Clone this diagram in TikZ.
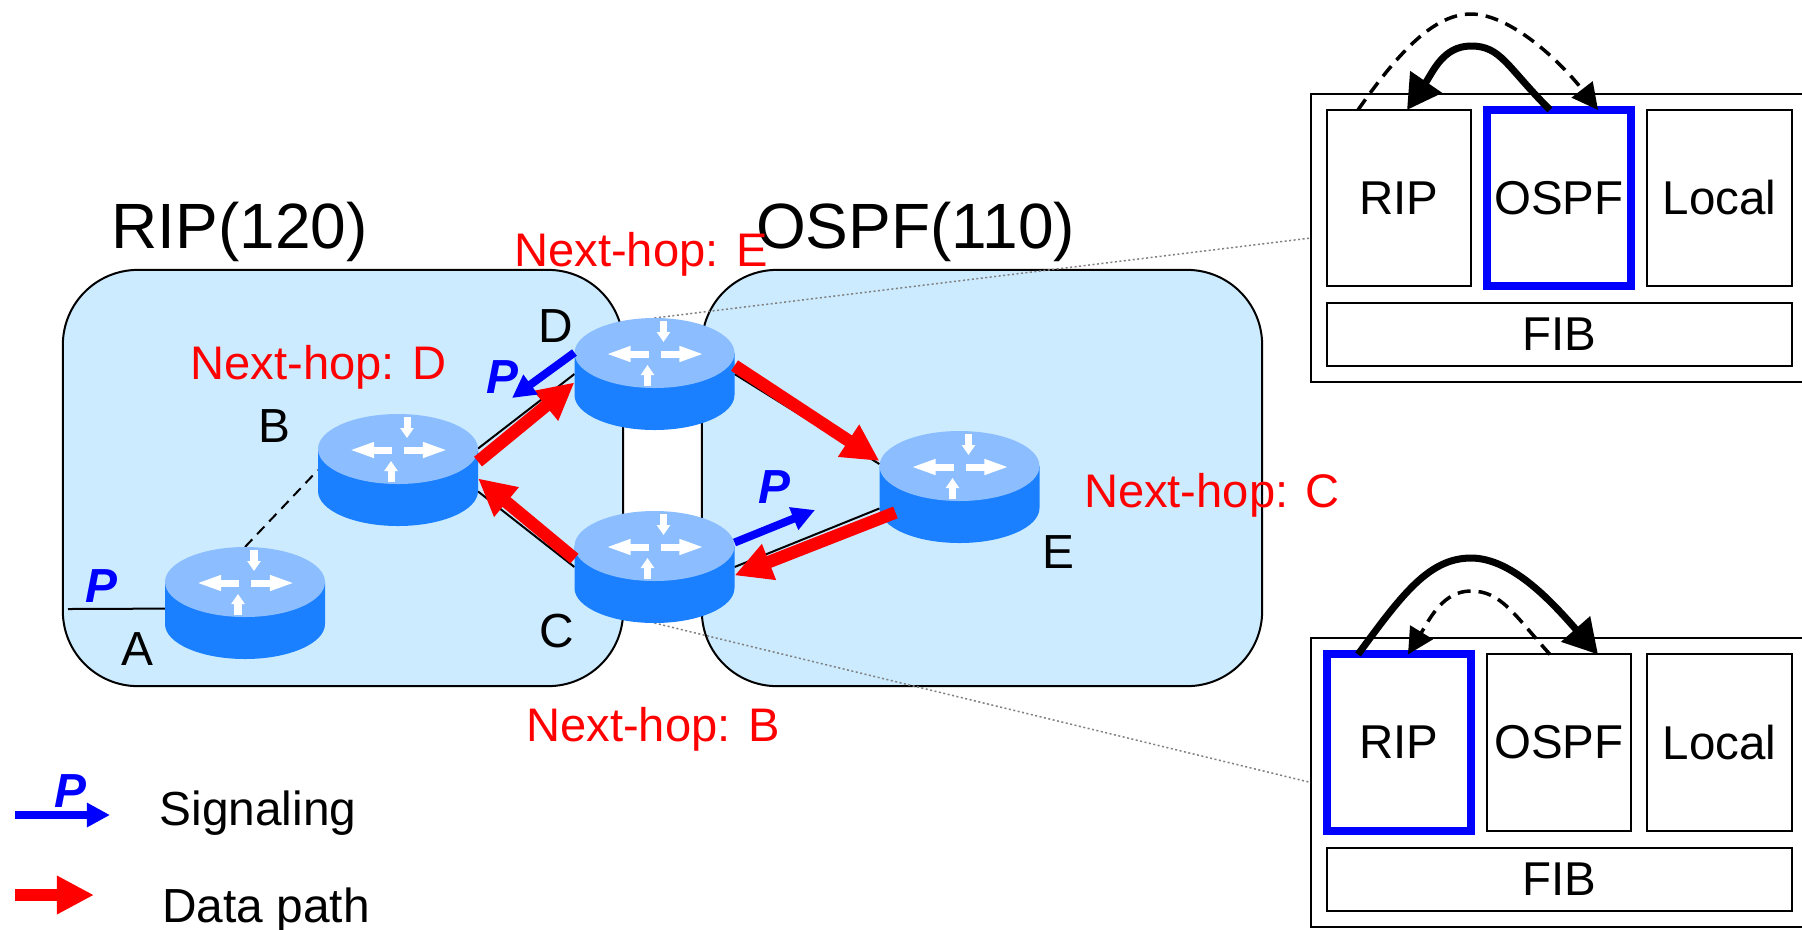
\documentclass[tikz,border=0pt]{standalone}
\usepackage{fontspec}
\setmainfont{Liberation Sans}
\usetikzlibrary{arrows.meta}

\definecolor{cloudblue}{RGB}{204,235,255}
\definecolor{routertop}{RGB}{140,190,255}
\definecolor{routerside}{RGB}{26,128,255}

\begin{document}
\begin{tikzpicture}[x=0.01cm, y=-0.01cm]
		\tikzset{cloud/.style={shape = rectangle, draw, fill = cloudblue, line width = 0.02cm, rounded corners = 0.75cm, minimum width = 5.6cm, minimum height = 4.16cm, outer sep = 0pt}}
		\tikzset{routerbox/.style={shape = rectangle, minimum width = 1.6cm, minimum height = 1.12cm, inner sep = 0pt, outer sep = 0pt}}
		\tikzset{outerbox/.style={shape = rectangle, draw, fill = white, line width = 0.02cm, minimum width = 5.2cm, minimum height = 2.88cm, outer sep = 0pt}}
		\tikzset{rtable/.style={shape = rectangle, draw, line width = 0.02cm, inner sep = 0pt, outer sep = 0pt, minimum width = 1.44cm, minimum height = 1.76cm, font = \fontsize{13.5}{16}\selectfont}}
		\tikzset{active/.style={rtable, draw = blue, line width = 0.08cm}}
		\tikzset{fibbox/.style={rtable, minimum width = 4.65cm, minimum height = 0.63cm}}
		\tikzset{lbl/.style={anchor = base, inner sep = 0pt, font = \fontsize{13.6}{16}\selectfont}}
		\tikzset{hop/.style={lbl, text = red, font = \fontsize{13.4}{16}\selectfont}}
		\tikzset{sig/.style={lbl, text = blue, font = \fontsize{13.6}{16}\selectfont\bfseries\itshape}}
		\tikzset{areaname/.style={lbl, font = \fontsize{18.2}{22}\selectfont}}
		\tikzset{link/.style={line width = 0.02cm}}
		\tikzset{zoomline/.style={gray, line width = 0.015cm, dash pattern = on 0.02cm off 0.025cm}}
		\tikzset{datapath/.style={red, line width = 0.125cm, -{Triangle[length = 0.37cm, width = 0.36cm]}}}
		\tikzset{signal/.style={blue, line width = 0.08cm, -{Triangle[length = 0.23cm, width = 0.23cm]}}}
		\tikzset{oldroute/.style={line width = 0.035cm, dash pattern = on 0.13cm off 0.08cm, -{Triangle[length = 0.26cm, width = 0.26cm]}}}
		\tikzset{newroute/.style={line width = 0.07cm, -{Triangle[length = 0.34cm, width = 0.37cm]}}}
		\tikzset{flash/.style={white, line width = 0.07cm, -{Triangle[length = 0.25cm, width = 0.14cm]}}}
		\tikzset{flashv/.style={white, line width = 0.07cm, -{Triangle[length = 0.1cm, width = 0.13cm]}}}
		\tikzset{router/.pic={
				\fill[routerside] (-80,42) arc[start angle = 180, end angle = 0, x radius = 80, y radius = 35] -- (80,0) -- (-80,0) -- cycle;
				\fill[routertop] (0,0) ellipse[x radius = 80, y radius = 35];
				\draw[flash] (-6,1) -- (-49,1);
				\draw[flash] (6,1) -- (50,1);
				\draw[flashv] (9,-32) -- (9,-11);
				\draw[flashv] (-7,33) -- (-7,12);
		}}
		\clip (0,0) rectangle (1802,929);
		%domains
		\node[cloud] (ripcloud) at (343,478) {};
		\node[cloud] (ospfcloud) at (982,478) {};
		%tables
		\node[outerbox] (upper) at (1571,238) {};
		\node[rtable] (rip1) at (1399,198) {RIP};
		\node[active] (ospf1) at (1559,198) {OSPF};
		\node[rtable] (local1) at (1719.5,198) {Local};
		\node[fibbox] (fib1) at (1559.5,334.5) {FIB};
		\node[outerbox] (lower) at (1571,782.5) {};
		\node[active] (rip2) at (1399,742.5) {RIP};
		\node[rtable] (ospf2) at (1559,742.5) {OSPF};
		\node[rtable] (local2) at (1719.5,742.5) {Local};
		\node[fibbox] (fib2) at (1559.5,879) {FIB};
		%routers
		\foreach \name/\x/\y in {A/245/582, B/398/449, C/654.5/546, D/654.5/353, E/959.5/466}
			\node[routerbox] (\name) at (\x,\y+21) {};
		\coordinate (ingress) at (68,609);
		\coordinate (sigd) at (512,398);
		\coordinate (sigc) at (815,510);
		%edges
		\path[zoomline] (D.north) edge (upper.west);
		\path[zoomline] (C.south) edge (lower.west);
		\path[link] (ingress) edge (A.184);
		\path[link, densely dashed] (A.north) edge (B.west);
		\path[link] (B.15) edge (D.west);
		\path[link] (B.-15) edge (C.west);
		\path[link] (C.east) edge (E.195);
		\path[link] (D.east) edge (E.164);
		\foreach \x/\y in {245/582, 398/449, 654.5/546, 654.5/353, 959.5/466}
			\pic at (\x,\y) {router};
		%data path
		\draw[datapath] (B.6) -- (D.186);
		\draw[datapath] (D.6) -- (E.162);
		\draw[datapath] ([shift={(16,4)}]E.195) -- (C.-6);
		\draw[datapath] (C.174) -- (B.-6);
		%signaling
		\draw[signal] (D.165) -- (sigd);
		\draw[signal] (C.17) -- (sigc);
		%route selection
		\draw[oldroute] ([xshift = -0.41cm]rip1.north) .. controls +(42,-60) and +(-36,0) .. (1471,14) .. controls +(39,0) and +(-38,-49) .. ([xshift = 0.39cm]ospf1.north);
		\draw[newroute] ([xshift = -0.09cm]ospf1.north) .. controls +(-44,-44) and +(30,0) .. (1471,46) .. controls +(-28,0) and +(26,-38) .. ([xshift = 0.08cm]rip1.north);
		\draw[newroute] ([xshift = -0.41cm]rip2.north) .. controls +(44,-60) and +(-42,0) .. (1471,558) .. controls +(42,0) and +(-44,-50) .. ([xshift = 0.39cm]ospf2.north);
		\draw[oldroute] ([xshift = -0.09cm]ospf2.north) .. controls +(-36,-40) and +(30,0) .. (1471,591) .. controls +(-28,0) and +(22,-36) .. ([xshift = 0.09cm]rip2.north);
		%labels
		\node[areaname] (ripname) at (239.5,248) {RIP(120)};
		\node[areaname] (ospfname) at (915.5,248) {OSPF(110)};
		\node[hop] (hope) at (641,266) {Next-hop: E};
		\node[hop] (hopd) at (318.5,379) {Next-hop: D};
		\node[hop] (hopb) at (653,741) {Next-hop: B};
		\node[hop] (hopc) at (1212,507) {Next-hop: C};
		\node[lbl] (namea) at (137,665) {A};
		\node[lbl] (nameb) at (274,442) {B};
		\node[lbl] (namec) at (556.5,647) {C};
		\node[lbl] (named) at (555.5,342) {D};
		\node[lbl] (namee) at (1058,568) {E};
		\node[sig] (pa) at (101,602) {P};
		\node[sig] (pd) at (502,393) {P};
		\node[sig] (pc) at (774,503) {P};
		%legend
		\coordinate (sigfrom) at (15,815);
		\coordinate (sigto) at (110,815);
		\coordinate (datafrom) at (15,895);
		\coordinate (datato) at (94,895);
		\draw[signal] (sigfrom) -- (sigto);
		\draw[datapath] (datafrom) -- (datato);
		\node[sig] (plegend) at (70,807) {P};
		\node[lbl] (signaling) at (258,825) {Signaling};
		\node[lbl] (datatext) at (266,922) {Data path};
\end{tikzpicture}
\end{document}
